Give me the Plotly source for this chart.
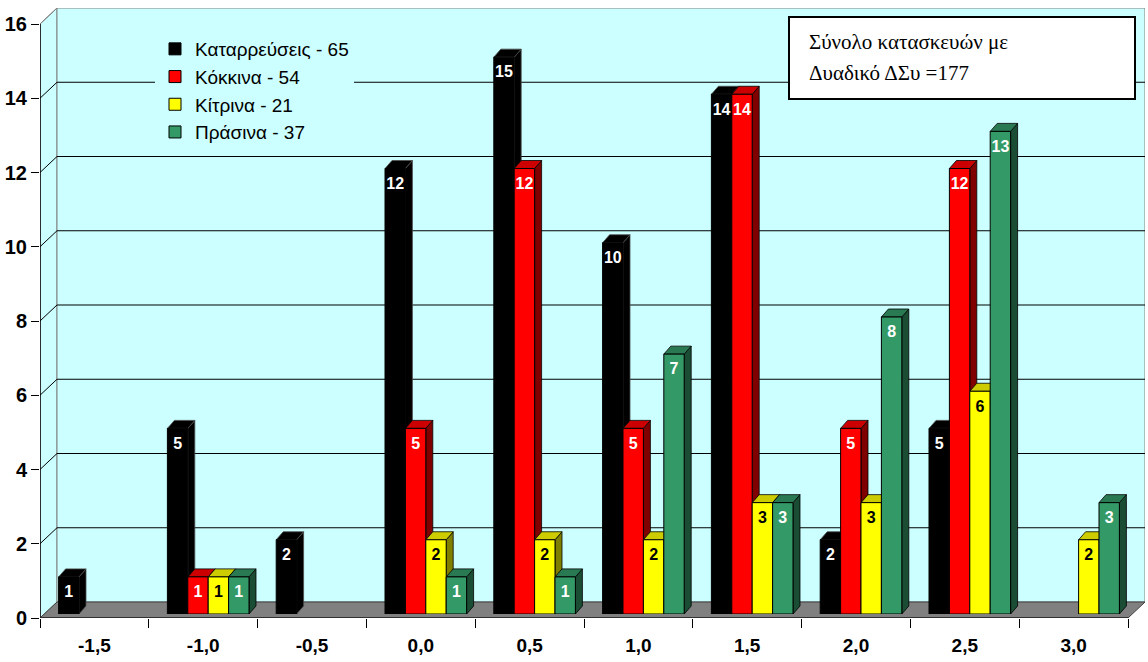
import plotly.graph_objects as go

# ---- data -------------------------------------------------------------
categories = ["-1,5", "-1,0", "-0,5", "0,0", "0,5", "1,0", "1,5", "2,0", "2,5", "3,0"]
collapses = [1, 5, 2, 12, 15, 10, 14, 2, 5, None]
red_tags = [None, 1, None, 5, 12, 5, 14, 5, 12, None]
yellow_tags = [None, 1, None, 2, 2, 2, 3, 3, 6, 2]
green_tags = [None, 1, None, 1, 1, 7, 3, 8, 13, 3]
series_names = ["Καταρρεύσεις - 65", "Κόκκινα - 54", "Κίτρινα - 21", "Πράσινα - 37"]
y_ticks = [0, 2, 4, 6, 8, 10, 12, 14, 16]
note_lines = ["Σύνολο κατασκευών με", "Δυαδικό ΔΣυ =177"]

# ---- styling ----------------------------------------------------------
front_colors = ["#000000", "#FF0000", "#FFFF00", "#339966"]
top_colors = ["#000000", "#CC0000", "#CCCC00", "#297A52"]
side_colors = ["#000000", "#800000", "#808000", "#1A4D33"]
edge_colors = ["#4d4d4d", "#000000", "#000000", "#000000"]
label_colors = ["white", "white", "black", "white"]
WALL = "#CCFFFF"
FLOOR = "#808080"
SANS = "Liberation Sans, Arial, sans-serif"
SERIF = "Liberation Serif, Times New Roman, serif"

W, H = 1148, 662
FX0, CAT_PX = 40, 108.8          # front plane: left edge, pixels per category
FY0, UNIT_PX = 618, 37.125       # front plane: zero line, pixels per unit
WALL_DX, WALL_DY = 17, 16        # depth of the box (pixels)
BAR_SHIFT_X, BAR_SHIFT_Y = 5, 4  # bars sit a little behind the front plane
BAR_DX, BAR_DY = 7, 8            # depth of each bar (pixels)
N = len(categories)
YMAX = 16
BARGAP = 0.25
BW = (1 - BARGAP) / 4


def px(x):
    return x / W


def py(y):
    return 1 - y / H


# main axes: the box (walls, floor, ticks)
x_dom = [FX0, FX0 + N * CAT_PX + WALL_DX]
y_dom = [FY0 - YMAX * UNIT_PX - WALL_DY, FY0]
x_rng = [-0.5, N - 0.5 + WALL_DX / CAT_PX]
y_rng = [0, YMAX + WALL_DY / UNIT_PX]

# bar axes: same scales, shifted into the box
bx_dom = [FX0 + BAR_SHIFT_X, W]
by_dom = [4, FY0 - BAR_SHIFT_Y]
bx_rng = [-0.5, -0.5 + (bx_dom[1] - bx_dom[0]) / CAT_PX]
by_rng = [0, (by_dom[1] - by_dom[0]) / UNIT_PX]

fig = go.Figure()

series = [collapses, red_tags, yellow_tags, green_tags]
xs = list(range(N))
for i, vals in enumerate(series):
    fig.add_trace(go.Bar(
        x=xs, y=vals, name=series_names[i], xaxis="x2", yaxis="y2",
        marker=dict(color=front_colors[i], line=dict(color="black", width=1)),
        hoverinfo="skip",
    ))

# value labels inside the bars
for i, vals in enumerate(series):
    lx, ly, lt = [], [], []
    for j, v in enumerate(vals):
        if v is None:
            continue
        lx.append(j + (i - 1.5) * BW)
        ly.append(v - 0.44)
        lt.append(f"<b>{v}</b>")
    fig.add_trace(go.Scatter(
        x=lx, y=ly, text=lt, mode="text", xaxis="x2", yaxis="y2",
        textposition="middle center", showlegend=False, hoverinfo="skip",
        textfont=dict(family=SANS, size=16, color=label_colors[i]),
    ))

shapes = []
# back wall and side wall
dx = WALL_DX / CAT_PX
dy = WALL_DY / UNIT_PX
shapes.append(dict(type="path", xref="x", yref="y", layer="below",
                   path=f"M{-0.5},0 L{-0.5+dx},{dy} L{-0.5+dx},{YMAX+dy} L{-0.5},{YMAX} Z",
                   fillcolor=WALL, line=dict(color="#808080", width=1)))
shapes.append(dict(type="rect", xref="x", yref="y", layer="below",
                   x0=-0.5 + dx, x1=N - 0.5 + dx, y0=dy, y1=YMAX + dy,
                   fillcolor=WALL, line=dict(color="#808080", width=1)))
# gridlines on the back wall, with their diagonals on the side wall
for v in y_ticks[1:-1]:
    shapes.append(dict(type="line", xref="x", yref="y", layer="below",
                       x0=-0.5 + dx, x1=N - 0.5 + dx, y0=v + dy, y1=v + dy,
                       line=dict(color="black", width=1)))
for v in y_ticks[1:]:
    shapes.append(dict(type="line", xref="x", yref="y", layer="below",
                       x0=-0.5, x1=-0.5 + dx, y0=v, y1=v + dy,
                       line=dict(color="black" if v < YMAX else "#808080", width=1)))
# floor
shapes.append(dict(type="path", xref="x", yref="y", layer="below",
                   path=f"M{-0.5},0 L{N-0.5},0 L{N-0.5+dx},{dy} L{-0.5+dx},{dy} Z",
                   fillcolor=FLOOR, line=dict(color="#404040", width=1)))
# value axis line and category axis edge
shapes.append(dict(type="line", xref="x", yref="y", layer="below",
                   x0=-0.5, x1=-0.5, y0=0, y1=YMAX, line=dict(color="black", width=1.5)))
shapes.append(dict(type="line", xref="x", yref="y", layer="below",
                   x0=-0.5, x1=N - 0.5, y0=0, y1=0, line=dict(color="#202020", width=1.5)))

# 3D faces of the bars: all side faces first, then the tops
bdx = BAR_DX / CAT_PX
bdy = BAR_DY / UNIT_PX
sides, tops = [], []
for i, vals in enumerate(series):
    for j, v in enumerate(vals):
        if v is None:
            continue
        xl = j + (i - 1.5) * BW - BW / 2
        xr = xl + BW
        sides.append(dict(type="path", xref="x2", yref="y2", layer="below",
                          path=f"M{xr},0 L{xr+bdx},{bdy} L{xr+bdx},{v+bdy} L{xr},{v} Z",
                          fillcolor=side_colors[i], line=dict(color=edge_colors[i], width=0.8)))
        tops.append(dict(type="path", xref="x2", yref="y2", layer="below",
                         path=f"M{xl},{v} L{xr},{v} L{xr+bdx},{v+bdy} L{xl+bdx},{v+bdy} Z",
                         fillcolor=top_colors[i], line=dict(color=edge_colors[i], width=0.8)))
shapes += sides + tops

# note box
shapes.append(dict(type="rect", xref="paper", yref="paper", layer="above",
                   x0=px(789), x1=px(1135), y0=py(99), y1=py(17),
                   fillcolor="white", line=dict(color="black", width=2)))

annotations = []
for k, line in enumerate(note_lines):
    annotations.append(dict(
        xref="paper", yref="paper", x=px(807), y=py(42 + 31 * k),
        xanchor="left", yanchor="middle", showarrow=False, text=line,
        font=dict(family=SERIF, size=21, color="black"),
    ))

fig.update_layout(
    width=W, height=H,
    margin=dict(l=0, r=0, t=0, b=0),
    paper_bgcolor="white", plot_bgcolor="rgba(0,0,0,0)",
    barmode="group", bargap=BARGAP, bargroupgap=0,
    showlegend=True,
    legend=dict(
        x=px(155), y=py(30), xanchor="left", yanchor="top",
        bgcolor=WALL, borderwidth=0, traceorder="normal",
        font=dict(family=SANS, size=19, color="black"),
    ),
    xaxis=dict(
        domain=[px(x_dom[0]), px(x_dom[1])], range=x_rng, type="linear",
        tickmode="array", tickvals=xs, ticktext=categories, ticks="",
        ticklabelstandoff=14, automargin=False,
        tickfont=dict(family=SANS, size=19, color="black", weight="bold"),
        minor=dict(tickmode="array", tickvals=[k - 0.5 for k in range(N + 1)],
                   ticks="outside", ticklen=9, tickcolor="black", tickwidth=1),
        showgrid=False, zeroline=False, showline=False, fixedrange=True,
    ),
    yaxis=dict(
        domain=[py(y_dom[1]), py(y_dom[0])], range=y_rng, automargin=False,
        tickmode="array", tickvals=y_ticks, ticks="outside", ticklen=8,
        tickcolor="black", tickwidth=1,
        tickfont=dict(family=SANS, size=20, color="black", weight="bold"),
        showgrid=False, zeroline=False, showline=False, fixedrange=True,
    ),
    xaxis2=dict(domain=[px(bx_dom[0]), px(bx_dom[1])], range=bx_rng,
                anchor="y2", visible=False, fixedrange=True, automargin=False),
    yaxis2=dict(domain=[py(by_dom[1]), py(by_dom[0])], range=by_rng,
                anchor="x2", visible=False, fixedrange=True, automargin=False),
    shapes=shapes,
    annotations=annotations,
)

fig.write_html("out.html")
